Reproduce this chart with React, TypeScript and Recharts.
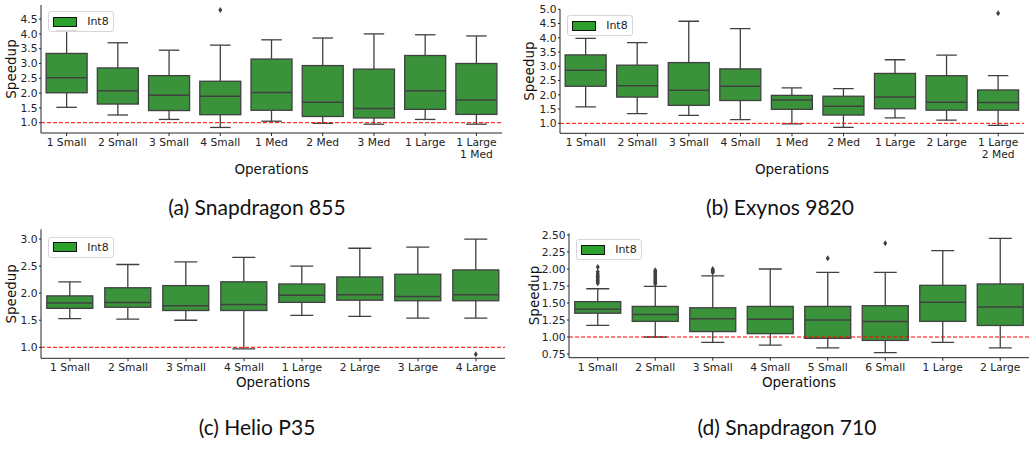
import { ComposedChart, Bar, XAxis, YAxis, ReferenceLine, Legend } from 'recharts';

const BOX_FILL = '#3a923a';
const PATCH_FILL = '#2ca02c';
const LINE = '#404040';
const SPINE = '#262626';
const FONT = '"DejaVu Sans", sans-serif';

// (a) Snapdragon 855
const opsA = ['1 Small', '2 Small', '3 Small', '4 Small', '1 Med', '2 Med', '3 Med', '1 Large', '1 Large\n1 Med'];
const loA = [1.52, 1.26, 1.11, 0.84, 1.05, 0.98, 0.95, 1.11, 0.95];
const q1A = [2.01, 1.63, 1.41, 1.27, 1.42, 1.21, 1.16, 1.45, 1.28];
const medA = [2.52, 2.08, 1.93, 1.89, 2.02, 1.69, 1.48, 2.08, 1.77];
const q3A = [3.34, 2.85, 2.59, 2.4, 3.15, 2.93, 2.81, 3.27, 3.0];
const hiA = [4.11, 3.7, 3.45, 3.62, 3.8, 3.86, 4.0, 3.97, 3.93];
const outA = [[], [], [], [4.81], [], [], [], [], []];
const ticksA = [1.0, 1.5, 2.0, 2.5, 3.0, 3.5, 4.0, 4.5];

// (b) Exynos 9820
const opsB = ['1 Small', '2 Small', '3 Small', '4 Small', '1 Med', '2 Med', '1 Large', '2 Large', '1 Large\n2 Med'];
const loB = [1.58, 1.34, 1.28, 1.13, 0.98, 0.86, 1.19, 1.11, 0.93];
const q1B = [2.3, 1.92, 1.63, 1.8, 1.49, 1.29, 1.51, 1.46, 1.46];
const medB = [2.86, 2.32, 2.16, 2.3, 1.82, 1.6, 1.92, 1.74, 1.73];
const q3B = [3.4, 3.04, 3.13, 2.91, 1.98, 1.95, 2.75, 2.67, 2.17];
const hiB = [3.98, 3.83, 4.58, 4.32, 2.24, 2.22, 3.23, 3.39, 2.67];
const outB = [[], [], [], [], [], [], [], [], [4.86]];
const ticksB = [1.0, 1.5, 2.0, 2.5, 3.0, 3.5, 4.0, 4.5, 5.0];

// (c) Helio P35
const opsC = ['1 Small', '2 Small', '3 Small', '4 Small', '1 Large', '2 Large', '3 Large', '4 Large'];
const loC = [1.53, 1.52, 1.5, 0.97, 1.59, 1.57, 1.54, 1.54];
const q1C = [1.72, 1.74, 1.68, 1.68, 1.83, 1.87, 1.86, 1.86];
const medC = [1.82, 1.83, 1.77, 1.79, 1.96, 1.97, 1.94, 1.97];
const q3C = [1.95, 2.1, 2.14, 2.21, 2.17, 2.3, 2.35, 2.43];
const hiC = [2.21, 2.53, 2.58, 2.66, 2.5, 2.83, 2.85, 3.0];
const outC = [[], [], [], [], [], [], [], [0.87]];
const ticksC = [1.0, 1.5, 2.0, 2.5, 3.0];

// (d) Snapdragon 710
const opsD = ['1 Small', '2 Small', '3 Small', '4 Small', '5 Small', '6 Small', '1 Large', '2 Large'];
const loD = [1.17, 1.0, 0.92, 0.88, 0.84, 0.77, 0.92, 0.84];
const q1D = [1.35, 1.23, 1.08, 1.05, 0.98, 0.95, 1.23, 1.17];
const medD = [1.41, 1.33, 1.27, 1.26, 1.25, 1.23, 1.51, 1.44];
const q3D = [1.52, 1.45, 1.43, 1.45, 1.45, 1.46, 1.76, 1.78];
const hiD = [1.71, 1.745, 1.9, 2.0, 1.95, 1.95, 2.27, 2.45];
const outD = [
  [1.79, 1.81, 1.83, 1.85, 1.87, 1.89, 1.91, 1.93, 1.96, 2.03],
  [1.78, 1.8, 1.82, 1.84, 1.86, 1.88, 1.9, 1.92, 1.94, 1.96, 1.98],
  [1.95, 1.96, 1.97, 1.98, 2.0],
  [],
  [2.16],
  [2.38],
  [],
  [],
];
const ticksD = [0.75, 1.0, 1.25, 1.5, 1.75, 2.0, 2.25, 2.5];

function BoxShape(props: any) {
  const { x, y, width, height, payload } = props;
  if (!payload) return null;
  const top = Math.min(y, y + height);
  const h = Math.abs(height);
  const ppu = h / (payload.q3 - payload.q1);
  const py = (v: number) => top + (payload.q3 - v) * ppu;
  const cx = x + width / 2;
  const capL = x + width / 4;
  const capR = x + (width * 3) / 4;
  return (
    <g>
      <line x1={cx} x2={cx} y1={py(payload.q3)} y2={py(payload.hi)} stroke={LINE} strokeWidth={1.3} />
      <line x1={cx} x2={cx} y1={py(payload.q1)} y2={py(payload.lo)} stroke={LINE} strokeWidth={1.3} />
      <line x1={capL} x2={capR} y1={py(payload.hi)} y2={py(payload.hi)} stroke={LINE} strokeWidth={1.3} />
      <line x1={capL} x2={capR} y1={py(payload.lo)} y2={py(payload.lo)} stroke={LINE} strokeWidth={1.3} />
      <rect x={x} y={top} width={width} height={h} fill={BOX_FILL} stroke={LINE} strokeWidth={1.3} />
      <line x1={x} x2={x + width} y1={py(payload.med)} y2={py(payload.med)} stroke={LINE} strokeWidth={1.5} />
      {payload.out.map((v: number, i: number) => {
        const oy = py(v);
        return (
          <path
            key={i}
            d={`M${cx},${oy - 3} L${cx + 2},${oy} L${cx},${oy + 3} L${cx - 2},${oy} Z`}
            fill={LINE}
          />
        );
      })}
    </g>
  );
}

function OpTick(props: any) {
  const { x, y, payload } = props;
  const lines = String(payload.value).split('\n');
  return (
    <text x={x} y={y} textAnchor="middle" fontFamily={FONT} fontSize={10.7} fill="#222">
      {lines.map((l, i) => (
        <tspan key={i} x={x} dy={i === 0 ? 8 : 12}>
          {l}
        </tspan>
      ))}
    </text>
  );
}

function LegendBox(props: any) {
  const label = props.payload?.[0]?.value ?? 'Int8';
  return (
    <div
      style={{
        display: 'flex',
        alignItems: 'center',
        width: 56,
        height: 19,
        padding: '0 4px',
        border: '1px solid #d6d6d6',
        borderRadius: 3,
        background: 'rgba(255,255,255,0.8)',
      }}
    >
      <span style={{ width: 25, height: 10, background: PATCH_FILL, border: '1px solid #111', boxSizing: 'border-box' }} />
      <span style={{ marginLeft: 10, fontFamily: FONT, fontSize: 11, color: '#222' }}>{label}</span>
    </div>
  );
}

interface PanelProps {
  left: number;
  top: number;
  width: number;
  height: number;
  margin: { top: number; right: number; left: number; bottom: number };
  yWidth: number;
  xHeight: number;
  opOffset: number;
  spOffset: number;
  legendAt: { left: number; top: number };
  domain: [number, number];
  ticks: number[];
  decimals: number;
  topSpine: { stroke: string; strokeWidth: number };
  ops: string[];
  lo: number[];
  q1: number[];
  med: number[];
  q3: number[];
  hi: number[];
  out: number[][];
}

const titleStyle = { fontSize: 13.5, fontFamily: FONT, fill: '#111' };

function Panel(p: PanelProps) {
  const rows = p.ops.map((op, i) => ({
    op,
    box: [p.q1[i], p.q3[i]],
    lo: p.lo[i],
    q1: p.q1[i],
    med: p.med[i],
    q3: p.q3[i],
    hi: p.hi[i],
    out: p.out[i],
  }));
  return (
    <div style={{ position: 'absolute', left: p.left, top: p.top, width: p.width, height: p.height }}>
      <ComposedChart width={p.width} height={p.height} data={rows} margin={p.margin} barCategoryGap="10%">
        <XAxis
          dataKey="op"
          type="category"
          interval={0}
          height={p.xHeight}
          tick={<OpTick />}
          tickSize={3}
          tickMargin={2}
          tickLine={{ stroke: SPINE }}
          axisLine={{ stroke: SPINE }}
          label={{ value: 'Operations', position: 'insideBottom', offset: p.opOffset, style: titleStyle }}
        />
        <XAxis
          xAxisId="top"
          orientation="top"
          dataKey="op"
          type="category"
          height={0}
          tick={false}
          tickLine={false}
          axisLine={p.topSpine}
        />
        <YAxis
          type="number"
          domain={p.domain}
          ticks={p.ticks}
          interval={0}
          allowDataOverflow
          width={p.yWidth}
          tickSize={2}
          tickMargin={1.5}
          tickLine={{ stroke: SPINE }}
          axisLine={{ stroke: SPINE }}
          tickFormatter={(v: number) => v.toFixed(p.decimals)}
          tick={{ fontSize: 10.7, fill: '#222', fontFamily: FONT }}
          label={{
            value: 'Speedup',
            angle: -90,
            position: 'insideLeft',
            offset: p.spOffset,
            style: { ...titleStyle, textAnchor: 'middle' },
          }}
        />
        <YAxis
          yAxisId="right"
          orientation="right"
          type="number"
          domain={p.domain}
          width={0}
          tick={false}
          tickLine={false}
          axisLine={{ stroke: SPINE }}
        />
        <ReferenceLine y={1} stroke="#ff0000" strokeDasharray="4 2" strokeWidth={1} />
        <Bar dataKey="box" name="Int8" shape={<BoxShape />} isAnimationActive={false} />
        <Legend
          layout="horizontal"
          verticalAlign="middle"
          align="center"
          content={<LegendBox />}
          wrapperStyle={{ left: p.legendAt.left, top: p.legendAt.top, width: 'auto', height: 'auto' }}
        />
      </ComposedChart>
    </div>
  );
}

function Caption({ cx, cy, text }: { cx: number; cy: number; text: string }) {
  return (
    <div
      style={{
        position: 'absolute',
        left: cx - 150,
        top: cy - 12,
        width: 300,
        height: 24,
        lineHeight: '24px',
        textAlign: 'center',
        fontFamily: 'Lato, sans-serif',
        fontSize: 21,
        color: '#111',
      }}
    >
      {text}
    </div>
  );
}

export default function App() {
  return (
    <div style={{ position: 'absolute', left: 0, top: 0, width: 1030, height: 449, background: '#fff', overflow: 'hidden' }}>
      <Panel
        left={0}
        top={0}
        width={510}
        height={180}
        margin={{ top: 5, right: 8, left: 0, bottom: 2 }}
        yWidth={41}
        xHeight={45}
        opOffset={4.5}
        spOffset={11}
        legendAt={{ left: 47.7, top: 11 }}
        domain={[0.652, 4.976]}
        ticks={ticksA}
        decimals={1}
        topSpine={{ stroke: '#7a7a7a', strokeWidth: 2.5 }}
        ops={opsA}
        lo={loA}
        q1={q1A}
        med={medA}
        q3={q3A}
        hi={hiA}
        out={outA}
      />
      <Panel
        left={510}
        top={0}
        width={520}
        height={180}
        margin={{ top: 9, right: 6, left: 0, bottom: 1.7 }}
        yWidth={50}
        xHeight={45}
        opOffset={4.8}
        spOffset={19}
        legendAt={{ left: 56.7, top: 15 }}
        domain={[0.65, 5.01]}
        ticks={ticksB}
        decimals={1}
        topSpine={{ stroke: SPINE, strokeWidth: 1 }}
        ops={opsB}
        lo={loB}
        q1={q1B}
        med={medB}
        q3={q3B}
        hi={hiB}
        out={outB}
      />
      <Panel
        left={0}
        top={220}
        width={510}
        height={180}
        margin={{ top: 9.3, right: 5, left: 0, bottom: 0.7 }}
        yWidth={41}
        xHeight={41}
        opOffset={12.5}
        spOffset={11}
        legendAt={{ left: 47.7, top: 16.7 }}
        domain={[0.797, 3.18]}
        ticks={ticksC}
        decimals={1}
        topSpine={{ stroke: '#7a7a7a', strokeWidth: 2.5 }}
        ops={opsC}
        lo={loC}
        q1={q1C}
        med={medC}
        q3={q3C}
        hi={hiC}
        out={outC}
      />
      <Panel
        left={510}
        top={220}
        width={520}
        height={180}
        margin={{ top: 13.3, right: 1, left: 0, bottom: 1.3 }}
        yWidth={59}
        xHeight={41}
        opOffset={11.9}
        spOffset={24}
        legendAt={{ left: 65.7, top: 19 }}
        domain={[0.696, 2.525]}
        ticks={ticksD}
        decimals={2}
        topSpine={{ stroke: SPINE, strokeWidth: 1 }}
        ops={opsD}
        lo={loD}
        q1={q1D}
        med={medD}
        q3={q3D}
        hi={hiD}
        out={outD}
      />
      <Caption cx={257} cy={207} text="(a) Snapdragon 855" />
      <Caption cx={780} cy={207} text="(b) Exynos 9820" />
      <Caption cx={257} cy={427} text="(c) Helio P35" />
      <Caption cx={787} cy={427} text="(d) Snapdragon 710" />
    </div>
  );
}
